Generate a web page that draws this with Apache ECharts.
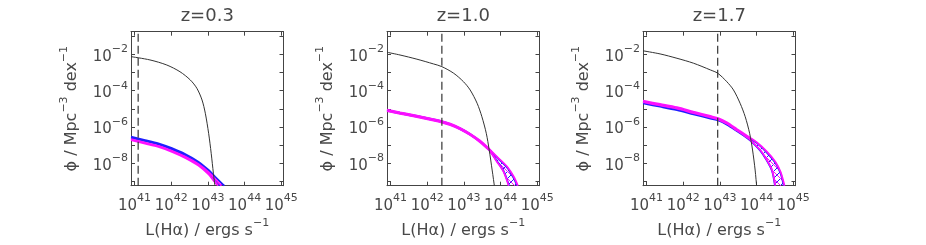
<!DOCTYPE html>
<html><head><meta charset="utf-8">
<script src="https://cdn.jsdelivr.net/npm/echarts@6/dist/echarts.min.js"></script>
<style>html,body{margin:0;padding:0;background:#fff}#c{width:926px;height:245px}</style>
</head><body><div id="c"></div>
<script>
// ---- data (log10 L [erg/s], log10 phi [Mpc^-3 dex^-1]) ----
const titles = ['z=0.3', 'z=1.0', 'z=1.7'];
const xTicks = [41, 42, 43, 44, 45];
const yTicks = [-9, -8, -7, -6, -5, -4, -3, -2, -1];
const yLabelTicks = [-8, -6, -4, -2];
const cutLum = [41.10, 42.40, 42.94];

const black1 = [[40.905,-2.13],[41.42,-2.31],[41.88,-2.59],[42.24,-2.96],[42.52,-3.41],[42.70,-3.87],[42.84,-4.51],[42.93,-5.24],[43.02,-6.34],[43.09,-7.44],[43.15,-8.54],[43.19,-9.22]];
const blueUp1 = [[40.905,-6.53],[41.29,-6.71],[41.65,-6.89],[42.02,-7.16],[42.38,-7.48],[42.74,-7.90],[43.02,-8.36],[43.20,-8.73],[43.38,-9.09],[43.45,-9.22]];
const blueLo1 = [[40.905,-6.59],[41.29,-6.77],[41.65,-6.95],[42.02,-7.22],[42.38,-7.55],[42.74,-7.99],[43.02,-8.48],[43.20,-8.90],[43.33,-9.22]];
const magUp1 = [[40.905,-6.66],[41.29,-6.85],[41.65,-7.03],[42.02,-7.30],[42.38,-7.62],[42.74,-8.03],[43.02,-8.48],[43.20,-8.86],[43.37,-9.22]];
const magLo1 = [[40.905,-6.72],[41.29,-6.91],[41.65,-7.09],[42.02,-7.36],[42.38,-7.69],[42.74,-8.11],[43.02,-8.60],[43.18,-9.00],[43.28,-9.22]];

const black2 = [[40.905,-1.89],[41.26,-2.04],[41.72,-2.27],[42.17,-2.53],[42.40,-2.68],[42.72,-3.04],[42.99,-3.51],[43.17,-3.96],[43.36,-4.69],[43.49,-5.43],[43.61,-6.34],[43.69,-7.26],[43.77,-8.36],[43.83,-9.22]];
const blueUp2 = [[40.905,-5.06],[41.26,-5.21],[41.72,-5.39],[42.17,-5.58],[42.40,-5.69],[42.63,-5.83],[42.90,-6.07],[43.17,-6.38],[43.44,-6.77],[43.63,-7.11],[43.90,-7.67],[44.18,-8.23],[44.35,-8.78],[44.45,-9.22]];
const blueLo2 = [[40.905,-5.10],[41.26,-5.25],[41.72,-5.43],[42.17,-5.62],[42.40,-5.73],[42.63,-5.87],[42.90,-6.11],[43.17,-6.42],[43.44,-6.80],[43.63,-7.14],[43.72,-7.32],[43.90,-7.86],[44.08,-8.41],[44.23,-9.22]];
const magUp2 = [[40.905,-5.04],[41.26,-5.19],[41.72,-5.37],[42.17,-5.56],[42.40,-5.67],[42.63,-5.81],[42.90,-6.05],[43.17,-6.36],[43.44,-6.74],[43.63,-7.08],[43.90,-7.63],[44.18,-8.18],[44.36,-8.73],[44.47,-9.22]];
const magLo2 = [[40.905,-5.12],[41.26,-5.27],[41.72,-5.45],[42.17,-5.64],[42.40,-5.75],[42.63,-5.89],[42.90,-6.13],[43.17,-6.44],[43.44,-6.83],[43.63,-7.17],[43.72,-7.35],[43.90,-7.90],[44.08,-8.45],[44.22,-9.22]];

const black3 = [[40.905,-1.81],[41.37,-1.98],[41.83,-2.22],[42.28,-2.49],[42.74,-2.86],[42.94,-3.04],[43.19,-3.51],[43.37,-3.96],[43.55,-4.69],[43.69,-5.43],[43.81,-6.34],[43.89,-7.26],[43.96,-8.36],[44.00,-9.22]];
const blueUp3 = [[40.905,-4.62],[41.37,-4.80],[41.83,-4.99],[42.28,-5.23],[42.74,-5.46],[42.97,-5.58],[43.19,-5.80],[43.46,-6.15],[43.74,-6.52],[44.01,-6.88],[44.28,-7.40],[44.51,-7.96],[44.65,-8.52],[44.74,-9.22]];
const blueLo3 = [[40.905,-4.70],[41.37,-4.88],[41.83,-5.07],[42.28,-5.30],[42.74,-5.53],[42.97,-5.65],[43.19,-5.87],[43.46,-6.22],[43.74,-6.60],[43.83,-6.74],[44.10,-7.30],[44.28,-7.84],[44.42,-8.40],[44.50,-9.22]];
const magUp3 = [[40.905,-4.55],[41.37,-4.73],[41.83,-4.91],[42.28,-5.15],[42.74,-5.39],[42.97,-5.52],[43.19,-5.74],[43.46,-6.10],[43.74,-6.48],[44.01,-6.85],[44.28,-7.35],[44.51,-7.90],[44.65,-8.45],[44.76,-9.22]];
const magLo3 = [[40.905,-4.63],[41.37,-4.81],[41.83,-4.99],[42.28,-5.23],[42.74,-5.47],[42.97,-5.60],[43.19,-5.82],[43.46,-6.18],[43.74,-6.57],[43.83,-6.71],[44.10,-7.26],[44.28,-7.81],[44.42,-8.36],[44.51,-9.22]];

const panels = [
  {black: black1, blueUp: blueUp1, blueLo: blueLo1, magUp: magUp1, magLo: magLo1},
  {black: black2, blueUp: blueUp2, blueLo: blueLo2, magUp: magUp2, magLo: magLo2},
  {black: black3, blueUp: blueUp3, blueLo: blueLo3, magUp: magUp3, magLo: magLo3}
];

// ---- layout / style ----
const X_MIN = 40.905, X_MAX = 45.06, Y_MIN = -9.22, Y_MAX = -0.76;
const gridLeft = [131, 387, 643], gridTop = 31.7, gridW = 152.5, gridH = 154;
const FONT = 'DejaVu Sans', TXT = '#484848', AX = '#444';
const BLUE = '#1f1fff', MAG = '#ff10ff';
const rich = {
  b: {fontSize: 15, verticalAlign: 'middle', color: TXT, fontFamily: FONT},
  s: {fontSize: 11, verticalAlign: 'middle', padding: [0, 0, 15, 0], color: TXT, fontFamily: FONT},
  n: {fontSize: 16, verticalAlign: 'middle', color: TXT, fontFamily: FONT}
};

function hatch(color, dir) {
  const n = 7, c = document.createElement('canvas');
  c.width = n; c.height = n;
  const g = c.getContext('2d');
  g.strokeStyle = color; g.lineWidth = 1;
  g.beginPath();
  if (dir > 0) {
    g.moveTo(0, n); g.lineTo(n, 0);
    g.moveTo(-1, 1); g.lineTo(1, -1);
    g.moveTo(n - 1, n + 1); g.lineTo(n + 1, n - 1);
  } else {
    g.moveTo(0, 0); g.lineTo(n, n);
    g.moveTo(n - 1, -1); g.lineTo(n + 1, 1);
    g.moveTo(-1, n - 1); g.lineTo(1, n + 1);
  }
  g.stroke();
  return {image: c, repeat: 'repeat'};
}
const blueHatch = hatch(BLUE, 1), magHatch = hatch(MAG, -1);

const grid = [], xAxis = [], yAxis = [], series = [], title = [];
panels.forEach((p, k) => {
  grid.push({left: gridLeft[k], top: gridTop, width: gridW, height: gridH, containLabel: false});
  title.push({text: titles[k], left: gridLeft[k] + gridW / 2, top: 7, padding: 0, textAlign: 'center',
    textStyle: {fontSize: 18, fontWeight: 'normal', color: TXT, fontFamily: FONT}});
  const tick = {show: true, inside: true, length: 4, lineStyle: {color: AX, width: 1}};
  xAxis.push({type: 'value', gridIndex: k, min: X_MIN, max: X_MAX, position: 'bottom',
    axisLine: {show: true, onZero: false, lineStyle: {color: AX, width: 1}},
    axisTick: Object.assign({customValues: xTicks}, tick),
    axisLabel: {customValues: xTicks, margin: 7, formatter: v => '{b|10}{s|' + v + '}', rich: rich},
    splitLine: {show: false},
    name: '{n|L(Hα) / ergs s}{s|−1}', nameLocation: 'middle', nameGap: 24,
    nameTextStyle: {rich: rich}});
  xAxis.push({type: 'value', gridIndex: k, min: X_MIN, max: X_MAX, position: 'top',
    axisLine: {show: true, onZero: false, lineStyle: {color: AX, width: 1}},
    axisTick: Object.assign({customValues: xTicks}, tick),
    axisLabel: {show: false}, splitLine: {show: false}});
  yAxis.push({type: 'value', gridIndex: k, min: Y_MIN, max: Y_MAX, position: 'left',
    axisLine: {show: true, onZero: false, lineStyle: {color: AX, width: 1}},
    axisTick: Object.assign({customValues: yTicks}, tick),
    axisLabel: {customValues: yLabelTicks, margin: 3, padding: [5, 0, 0, 0],
      formatter: v => '{b|10}{s|−' + (-v) + '}', rich: rich},
    splitLine: {show: false},
    name: '{n|ϕ / Mpc}{s|−3}{n| dex}{s|−1}', nameLocation: 'middle', nameGap: 46,
    nameTextStyle: {rich: rich}});
  yAxis.push({type: 'value', gridIndex: k, min: Y_MIN, max: Y_MAX, position: 'right',
    axisLine: {show: true, onZero: false, lineStyle: {color: AX, width: 1}},
    axisTick: Object.assign({customValues: yTicks}, tick),
    axisLabel: {show: false}, splitLine: {show: false}});

  const xi = 2 * k, yi = 2 * k;
  const band = (up, lo, pat, z) => ({
    type: 'custom', xAxisIndex: xi, yAxisIndex: yi, data: [[X_MIN, Y_MIN]], silent: true, z: z,
    renderItem: (params, api) => {
      const pts = up.map(q => api.coord(q)).concat(lo.slice().reverse().map(q => api.coord(q)));
      return {type: 'polygon', shape: {points: pts}, style: {fill: pat, stroke: null}};
    }
  });
  const line = (data, color, w, z) => ({
    type: 'line', xAxisIndex: xi, yAxisIndex: yi, data: data, showSymbol: false, smooth: 0.3,
    silent: true, z: z, clip: true, lineStyle: {color: color, width: w}
  });
  series.push(band(p.blueUp, p.blueLo, blueHatch, 1));
  series.push(band(p.magUp, p.magLo, magHatch, 1));
  series.push(line(p.blueUp, BLUE, 1.8, 2));
  series.push(line(p.blueLo, BLUE, 1.8, 2));
  series.push(line(p.magUp, MAG, 1.8, 3));
  series.push(line(p.magLo, MAG, 1.8, 3));
  series.push(line(p.black, '#333', 1, 4));
  series.push({type: 'line', xAxisIndex: xi, yAxisIndex: yi, showSymbol: false, silent: true, z: 4,
    data: [[cutLum[k], Y_MIN], [cutLum[k], Y_MAX]],
    lineStyle: {color: '#333', width: 1.2, type: [8, 4]}});
});

const chart = echarts.init(document.getElementById('c'), null, {renderer: 'canvas'});
chart.setOption({animation: false, backgroundColor: '#fff', title, grid, xAxis, yAxis, series});
</script>
</body></html>
